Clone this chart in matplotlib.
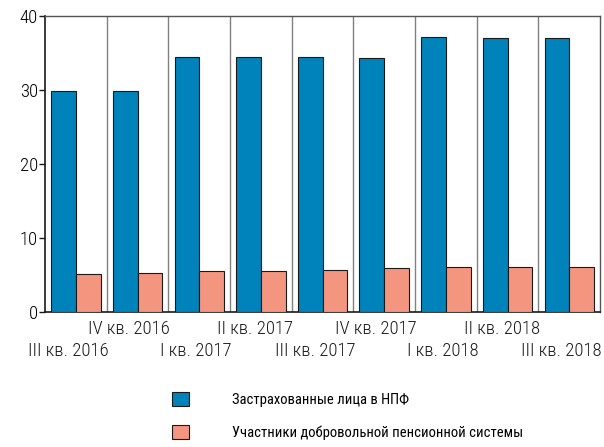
import numpy as np
import matplotlib.pyplot as plt
from matplotlib.transforms import blended_transform_factory

plt.rcParams['font.family'] = ['Roboto Condensed', 'DejaVu Sans']

# données
quarters = ["III кв. 2016", "IV кв. 2016", "I кв. 2017", "II кв. 2017",
            "III кв. 2017", "IV кв. 2017", "I кв. 2018", "II кв. 2018",
            "III кв. 2018"]
insured = [29.9, 29.8, 34.4, 34.4, 34.4, 34.3, 37.1, 37.0, 37.0]
voluntary = [5.2, 5.3, 5.5, 5.6, 5.7, 6.0, 6.1, 6.1, 6.1]
series_names = ["Застрахованные лица в НПФ",
                "Участники добровольной пенсионной системы"]
yticks = [0, 10, 20, 30, 40]

blue = "#0082BA"
salmon = "#F4957F"

fig = plt.figure(figsize=(6.04, 4.47), dpi=100)
ax = fig.add_axes([45 / 604, 135 / 447, 555 / 604, 296 / 447])

x = np.arange(len(quarters))
w = 0.4
b1 = ax.bar(x + 0.1, insured, width=w, align="edge", color=blue,
            edgecolor="#1a1a1a", linewidth=0.8, zorder=3)
b2 = ax.bar(x + 0.5, voluntary, width=w, align="edge", color=salmon,
            edgecolor="#1a1a1a", linewidth=0.8, zorder=3)

# séparateurs entre trimestres
ax.vlines(x[1:], 0, 40, color="#808080", linewidth=1.0, zorder=1)

ax.set_xlim(0, len(quarters))
ax.set_ylim(0, 40)
ax.set_yticks(yticks)
ax.tick_params(axis="y", labelsize=13.5, length=4, width=1, pad=1,
               color="#1a1a1a")
for t in ax.get_yticklabels():
    t.set_fontweight("light")
ax.set_xticks([])

for side in ["left", "bottom"]:
    ax.spines[side].set_color("#1a1a1a")
    ax.spines[side].set_linewidth(1.2)
for side in ["top", "right"]:
    ax.spines[side].set_color("#555555")
    ax.spines[side].set_linewidth(1.0)

# étiquettes en quinconce
trans = blended_transform_factory(ax.transData, ax.transAxes)
for i, lab in enumerate(quarters):
    y = -0.058 if i % 2 == 1 else -0.133
    ax.text(i + 1.03, y, lab, transform=trans, ha="right", va="center",
            fontsize=13.5, fontweight="light", color="#1a1a1a")

fig.legend([b1, b2], series_names, loc="upper left",
           bbox_to_anchor=(172 / 604, 1 - 392 / 447), frameon=False,
           fontsize=10.5, handlelength=1.16, handleheight=1.1,
           handletextpad=2.95, labelspacing=1.25, borderpad=0,
           borderaxespad=0)

fig.savefig("out.png", dpi=100)
